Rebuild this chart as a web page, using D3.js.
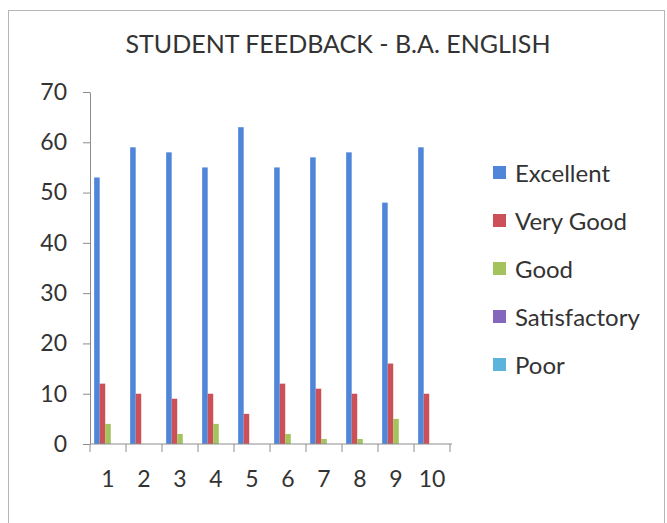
<!DOCTYPE html>
<html>
<head>
<meta charset="utf-8">
<script src="https://cdn.jsdelivr.net/npm/d3@7"></script>
<style>
  body { margin: 0; background: #fff; }
  svg { display: block; }
</style>
</head>
<body>
<div id="chart"></div>
<script>
// data
let categories = ["1", "2", "3", "4", "5", "6", "7", "8", "9", "10"]
let seriesNames = ["Excellent", "Very Good", "Good", "Satisfactory", "Poor"]
let excellent = [53, 59, 58, 55, 63, 55, 57, 58, 48, 59]
let veryGood = [12, 10, 9, 10, 6, 12, 11, 10, 16, 10]
let good = [4, 0, 2, 4, 0, 2, 1, 1, 5, 0]
let satisfactory = [0, 0, 0, 0, 0, 0, 0, 0, 0, 0]
let poor = [0, 0, 0, 0, 0, 0, 0, 0, 0, 0]
let yTicks = [0, 10, 20, 30, 40, 50, 60, 70]
let colors = ["#4f86d9", "#cc5058", "#a4c35c", "#8467bd", "#5cb3dc"]

let seriesValues = [excellent, veryGood, good, satisfactory, poor]

let width = 667, height = 523
let fontFamily = "Lato, 'Open Sans', sans-serif"

let svg = d3.select("#chart").append("svg")
    .attr("width", width)
    .attr("height", height)

// chart area outline (scan shows a thin grey frame)
svg.append("rect")
    .attr("x", 8.5).attr("y", 10.5)
    .attr("width", 656).attr("height", 530)
    .attr("fill", "#fff")
    .attr("stroke", "#b5b5b5")
    .attr("stroke-width", 1)

// title
svg.append("text")
    .attr("x", 338).attr("y", 53)
    .attr("text-anchor", "middle")
    .attr("font-family", fontFamily)
    .attr("font-size", 25)
    .attr("fill", "#333")
    .text("STUDENT FEEDBACK - B.A. ENGLISH")

let plot = { left: 90, right: 450, top: 92, bottom: 444 }

let x = d3.scaleBand()
    .domain(categories)
    .range([plot.left, plot.right])
    .padding(0)

// 5 bars per group, gap of 1.5 bar widths between groups
let xInner = d3.scaleBand()
    .domain(seriesNames)
    .range([0, x.bandwidth()])
    .paddingInner(0)
    .paddingOuter(0.75)

let y = d3.scaleLinear()
    .domain([0, 70])
    .range([plot.bottom, plot.top])

// y axis
let yAxis = svg.append("g")
    .attr("transform", `translate(${plot.left},0)`)
    .call(d3.axisLeft(y).tickValues(yTicks).tickSize(7).tickSizeOuter(0).tickPadding(16))
yAxis.select(".domain").attr("stroke", "#8c8c8c")
yAxis.selectAll(".tick line").attr("stroke", "#8c8c8c")
yAxis.selectAll(".tick text")
    .attr("font-family", fontFamily)
    .attr("font-size", 23)
    .attr("fill", "#333")

// bars
let groups = svg.append("g").selectAll("g")
    .data(categories)
    .join("g")
    .attr("transform", d => `translate(${x(d)},0)`)

groups.selectAll("rect")
    .data((d, i) => seriesNames.map((s, j) => ({ name: s, value: seriesValues[j][i], color: colors[j] })))
    .join("rect")
    .attr("x", d => xInner(d.name))
    .attr("width", xInner.bandwidth())
    .attr("y", d => y(d.value))
    .attr("height", d => y(0) - y(d.value))
    .attr("fill", d => d.color)

// x axis: ticks sit between categories like Excel
let xAxisG = svg.append("g")
    .attr("transform", `translate(0,${plot.bottom})`)
xAxisG.append("line")
    .attr("x1", plot.left).attr("x2", plot.right + 2)
    .attr("stroke", "#8c8c8c")
let boundaries = categories.map(c => x(c)).concat([x.range()[1]])
xAxisG.selectAll(".xtick")
    .data(boundaries)
    .join("line")
    .attr("class", "xtick")
    .attr("x1", d => d).attr("x2", d => d)
    .attr("y1", 0).attr("y2", 8)
    .attr("stroke", "#8c8c8c")
xAxisG.selectAll(".xlabel")
    .data(categories)
    .join("text")
    .attr("class", "xlabel")
    .attr("x", d => x(d) + x.bandwidth() / 2)
    .attr("y", 43)
    .attr("text-anchor", "middle")
    .attr("font-family", fontFamily)
    .attr("font-size", 23)
    .attr("fill", "#333")
    .text(d => d)

// legend
let legend = svg.append("g").selectAll("g")
    .data(seriesNames)
    .join("g")
    .attr("transform", (d, i) => `translate(493,${173 + i * 48})`)
legend.append("rect")
    .attr("x", 0).attr("y", -7)
    .attr("width", 13).attr("height", 13)
    .attr("fill", (d, i) => colors[i])
legend.append("text")
    .attr("x", 22).attr("y", 9)
    .attr("font-family", fontFamily)
    .attr("font-size", 24)
    .attr("fill", "#333")
    .text(d => d)
</script>
</body>
</html>
